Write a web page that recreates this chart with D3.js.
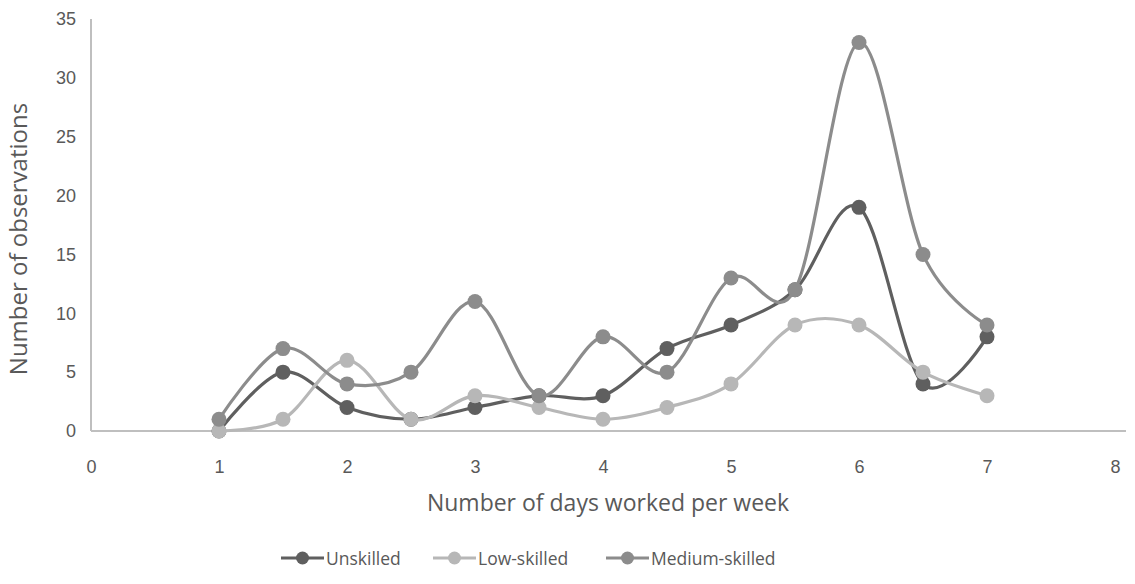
<!DOCTYPE html>
<html><head><meta charset="utf-8">
<script src="https://cdn.jsdelivr.net/npm/d3@7"></script>
<style>body{margin:0;background:#fff;} svg{display:block;font-family:"Open Sans","Noto Sans",sans-serif;}</style>
</head><body>
<svg id="c" width="1135" height="584"></svg>
<script>
const days = [1, 1.5, 2, 2.5, 3, 3.5, 4, 4.5, 5, 5.5, 6, 6.5, 7];
const unskilled = [0, 5, 2, 1, 2, 3, 3, 7, 9, 12, 19, 4, 8];
const lowSkilled = [0, 1, 6, 1, 3, 2, 1, 2, 4, 9, 9, 5, 3];
const mediumSkilled = [1, 7, 4, 5, 11, 3, 8, 5, 13, 12, 33, 15, 9];
const seriesNames = ["Unskilled", "Low-skilled", "Medium-skilled"];
const seriesColors = ["#5f5f5f", "#b7b7b7", "#8c8c8c"];
const xTicks = [0, 1, 2, 3, 4, 5, 6, 7, 8];
const yTicks = [0, 5, 10, 15, 20, 25, 30, 35];

const svg = d3.select("#c");
const x = d3.scaleLinear().domain([0, 8]).range([91, 1115]);
const y = d3.scaleLinear().domain([0, 35]).range([431, 19]);
const textCol = "#595959";

// axes
const xAxis = svg.append("g").attr("transform", `translate(0,${y(0)})`)
  .call(d3.axisBottom(x).tickValues(xTicks).tickSize(0).tickPadding(29).tickFormat(d3.format("d")));
xAxis.select(".domain").remove();
xAxis.append("line").attr("x1", x(0)).attr("x2", 1126).attr("y1", 0).attr("y2", 0)
  .attr("stroke", "#bfbfbf").attr("stroke-width", 2);
xAxis.selectAll("text").attr("fill", textCol).attr("font-size", 18);

const yAxis = svg.append("g").attr("transform", `translate(${x(0)},0)`)
  .call(d3.axisLeft(y).tickValues(yTicks).tickSize(0).tickPadding(15));
yAxis.select(".domain").remove();
yAxis.append("line").attr("x1", 0).attr("x2", 0).attr("y1", y(35)).attr("y2", y(0))
  .attr("stroke", "#bfbfbf").attr("stroke-width", 2);
yAxis.selectAll("text").attr("fill", textCol).attr("font-size", 18);

// titles
svg.append("text").attr("x", 608).attr("y", 511).attr("text-anchor", "middle")
  .attr("fill", textCol).attr("font-size", 23).text("Number of days worked per week");
svg.append("text").attr("transform", `translate(27,${239}) rotate(-90)`).attr("text-anchor", "middle")
  .attr("fill", textCol).attr("font-size", 24).text("Number of observations");

// series
const allSeries = [unskilled, lowSkilled, mediumSkilled];
const line = d3.line().x(d => x(d[0])).y(d => y(d[1])).curve(d3.curveCatmullRom.alpha(0));
allSeries.forEach((vals, i) => {
  const pts = days.map((d, j) => [d, vals[j]]);
  const g = svg.append("g");
  g.append("path").attr("d", line(pts)).attr("fill", "none")
    .attr("stroke", seriesColors[i]).attr("stroke-width", 3.2);
  g.selectAll("circle").data(pts).join("circle")
    .attr("cx", d => x(d[0])).attr("cy", d => y(d[1])).attr("r", 7.5)
    .attr("fill", seriesColors[i]);
});

// legend
const legendX = [281, 433, 606];
const legendY = 558;
seriesNames.forEach((name, i) => {
  const g = svg.append("g").attr("transform", `translate(${legendX[i]},${legendY})`);
  g.append("line").attr("x1", 0).attr("x2", 43).attr("y1", 0).attr("y2", 0)
    .attr("stroke", seriesColors[i]).attr("stroke-width", 3.2);
  g.append("circle").attr("cx", 21.5).attr("cy", 0).attr("r", 6.5).attr("fill", seriesColors[i]);
  g.append("text").attr("x", 45).attr("y", 6.5).attr("fill", textCol).attr("font-size", 17.5).text(name);
});
</script>
</body></html>
